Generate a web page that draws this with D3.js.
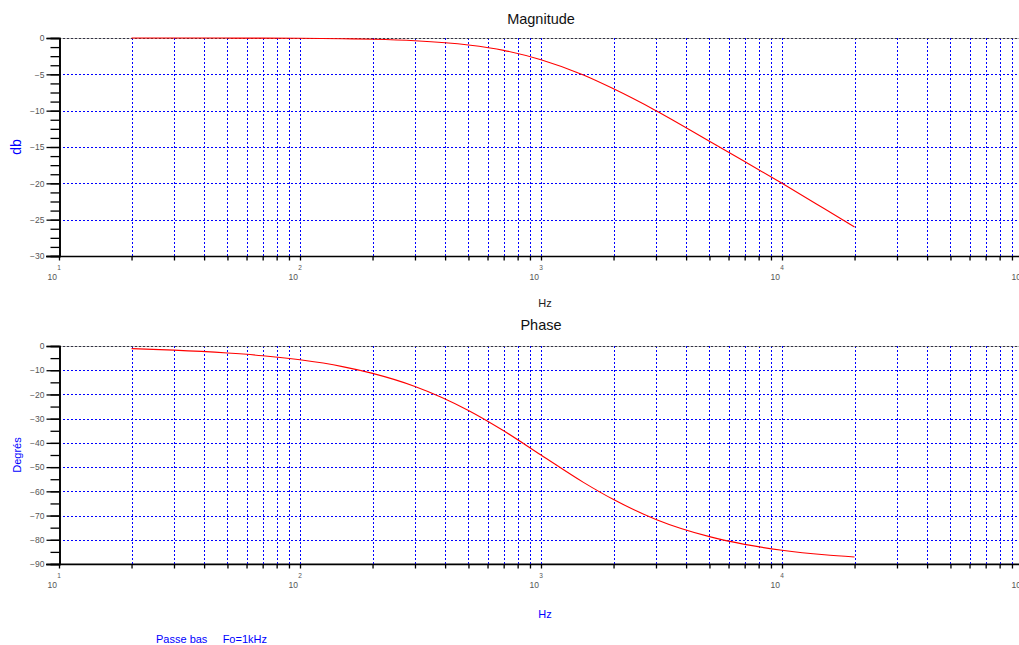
<!DOCTYPE html>
<html>
<head>
<meta charset="utf-8">
<script src="https://cdn.jsdelivr.net/npm/d3@7"></script>
<style>
  html, body { margin: 0; padding: 0; background: #fff; }
  svg { display: block; font-family: "Liberation Sans", Arial, sans-serif; }
</style>
</head>
<body>
<div id="chart"></div>
<script>
// Valeurs (filtre passe bas, Fo = 1 kHz)
const freqs = [20, 30, 50, 70, 100, 150, 200, 300, 500, 700, 1000, 1500, 2000, 3000, 5000, 7000, 10000, 15000, 20000];
const magnitude = [0, 0, -0.01, -0.02, -0.04, -0.1, -0.17, -0.38, -0.97, -1.7, -3.0, -5.1, -7.0, -10.0, -14.2, -17.0, -20.0, -23.5, -26.0];
const phase = [-1.1, -1.7, -2.9, -4.0, -5.7, -8.5, -11.3, -16.7, -26.6, -35.0, -45.0, -56.3, -63.4, -71.6, -78.7, -81.9, -84.3, -86.2, -87.1];

const decades = [1, 2, 3, 4, 5];
const magTicks = [0, -5, -10, -15, -20, -25, -30];
const phaseTicks = [0, -10, -20, -30, -40, -50, -60, -70, -80, -90];

const width = 1019, height = 645;
const svg = d3.select('#chart').append('svg')
    .attr('width', width)
    .attr('height', height);

const x = d3.scaleLog().domain([10, 1e5]).range([59, 1023]);

// positions de grille verticale (2..9 x 10^k et decades)
const gridX = [];
for (let k = 1; k <= 4; k++) {
    for (let m = 1; m <= 9; m++) {
        const v = m * Math.pow(10, k);
        if (v > 10) gridX.push(v);
    }
}
gridX.push(1e5);

function drawPanel(opts) {
    const y = d3.scaleLinear().domain(opts.domain).range([opts.bottom, opts.top]);
    const g = svg.append('g');

    // cadre gris
    g.append('line')
        .attr('x1', x.range()[0]).attr('x2', x.range()[1])
        .attr('y1', opts.top + 0.5).attr('y2', opts.top + 0.5)
        .attr('stroke', '#bbb');
    if (opts.grayBottom) {
        g.append('line')
            .attr('x1', x.range()[0]).attr('x2', x.range()[1])
            .attr('y1', opts.bottom - 0.5).attr('y2', opts.bottom - 0.5)
            .attr('stroke', '#aaa');
    }

    // grille
    g.selectAll('line.gx')
        .data(gridX)
        .enter()
        .append('line')
        .attr('class', 'gx')
        .attr('x1', d => Math.round(x(d)) + 0.5)
        .attr('x2', d => Math.round(x(d)) + 0.5)
        .attr('y1', opts.top)
        .attr('y2', opts.bottom)
        .attr('stroke', '#0000ff')
        .attr('stroke-dasharray', '2,2');

    g.selectAll('line.gy')
        .data(opts.ticks)
        .enter()
        .append('line')
        .attr('class', 'gy')
        .attr('x1', x.range()[0])
        .attr('x2', x.range()[1])
        .attr('y1', d => Math.round(y(d)) + 0.5)
        .attr('y2', d => Math.round(y(d)) + 0.5)
        .attr('stroke', d => d === 0 ? '#334' : '#0000ff')
        .attr('stroke-dasharray', '2,2');

    // courbe
    const line = d3.line()
        .x(d => x(d[0]))
        .y(d => y(d[1]))
        .curve(d3.curveMonotoneX);
    g.append('path')
        .datum(freqs.map((f, i) => [f, opts.values[i]]))
        .attr('d', line)
        .attr('fill', 'none')
        .attr('stroke', '#ff0000')
        .attr('stroke-width', 1.1);

    // axe Y : ticks mineurs puis majeurs
    const minor = d3.range(opts.domain[0], opts.domain[1] + 0.001, opts.minorStep);
    const yMinor = g.append('g')
        .attr('transform', 'translate(59.5,0)')
        .call(d3.axisLeft(y).tickValues(minor).tickSize(9).tickFormat(''));
    const yMajor = g.append('g')
        .attr('transform', 'translate(59.5,0)')
        .call(d3.axisLeft(y).tickValues(opts.ticks).tickSize(13).tickPadding(2).tickFormat(d3.format('d')));
    [yMinor, yMajor].forEach(a => {
        a.selectAll('line').attr('stroke', '#000').attr('stroke-width', 1.3);
        a.select('.domain').attr('stroke', '#000').attr('stroke-width', 1.6);
    });
    yMajor.selectAll('text')
        .attr('font-size', 8.5)
        .attr('fill', '#555')
        .attr('font-family', '"Liberation Sans", Arial, sans-serif');

    // axe X
    const xAxis = g.append('g')
        .attr('transform', `translate(0,${opts.bottom + 0.5})`)
        .call(d3.axisBottom(x).tickValues([10].concat(gridX)).tickSize(4).tickFormat(''));
    xAxis.selectAll('line').attr('stroke', '#000').attr('stroke-width', 1.3);
    xAxis.select('.domain').attr('stroke', '#000').attr('stroke-width', 1.3)
        .attr('d', `M46,0H${x.range()[1]}`);

    // labels 10^k
    const lab = g.selectAll('g.xl')
        .data(decades)
        .enter()
        .append('g')
        .attr('class', 'xl')
        .attr('transform', d => `translate(${x(Math.pow(10, d))},${opts.bottom})`);
    lab.append('text')
        .attr('x', -2)
        .attr('y', 24)
        .attr('text-anchor', 'end')
        .attr('font-size', 8.5)
        .attr('fill', '#555')
        .text('10');
    lab.append('text')
        .attr('x', 0)
        .attr('y', 14)
        .attr('text-anchor', 'middle')
        .attr('font-size', 6.5)
        .attr('fill', '#555')
        .text(d => d);

    // titre
    svg.append('text')
        .attr('x', 541)
        .attr('y', opts.top - opts.titleOffset)
        .attr('text-anchor', 'middle')
        .attr('font-size', 14.5)
        .attr('fill', '#111')
        .text(opts.title);

    // label Y
    svg.append('text')
        .attr('transform', `translate(${opts.yLabelX},${(opts.top + opts.bottom) / 2}) rotate(-90)`)
        .attr('text-anchor', 'middle')
        .attr('font-size', opts.yLabelSize)
        .attr('fill', '#0000ff')
        .text(opts.yLabel);

    // label X
    svg.append('text')
        .attr('x', 545)
        .attr('y', opts.bottom + opts.hzOffset)
        .attr('text-anchor', 'middle')
        .attr('font-size', 11)
        .attr('fill', opts.hzColor)
        .text('Hz');
}

drawPanel({
    title: 'Magnitude', top: 38, bottom: 256, domain: [-30, 0],
    ticks: magTicks, minorStep: 1.25, values: magnitude,
    yLabel: 'db', yLabelX: 21, yLabelSize: 14, titleOffset: 14,
    hzOffset: 51, hzColor: '#222', grayBottom: false
});

drawPanel({
    title: 'Phase', top: 346, bottom: 564, domain: [-90, 0],
    ticks: phaseTicks, minorStep: 5, values: phase,
    yLabel: 'Degrés', yLabelX: 21, yLabelSize: 11, titleOffset: 16,
    hzOffset: 54, hzColor: '#0000ff', grayBottom: true
});

// legende
svg.append('text')
    .attr('x', 156)
    .attr('y', 643)
    .attr('font-size', 11)
    .attr('fill', '#0000ff')
    .attr('xml:space', 'preserve')
    .text('Passe bas     Fo=1kHz');
</script>
</body>
</html>
